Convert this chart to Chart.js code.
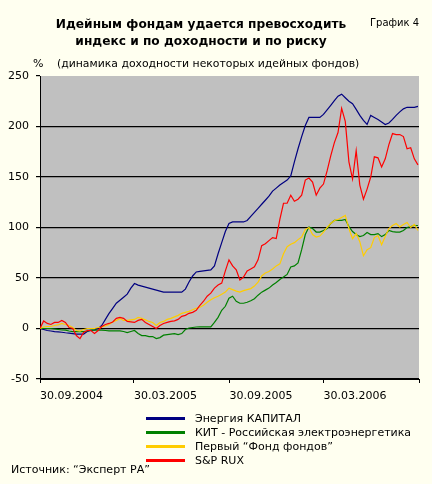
<!DOCTYPE html>
<html><head><meta charset="utf-8">
<script src="https://cdn.jsdelivr.net/npm/chart.js@4/dist/chart.umd.min.js"></script>
<style>
html,body{margin:0;padding:0;background:#FFFFF0;}
#wrap{position:relative;width:432px;height:484px;overflow:hidden;font-family:"DejaVu Sans",sans-serif;color:#000;}
canvas{position:absolute;left:0;top:0;}
.t{position:absolute;white-space:nowrap;font-size:11px;line-height:14px;}
#legend .row{position:absolute;left:146px;height:14px;}
#legend .sw{position:absolute;left:0;top:5px;width:39px;height:3px;}
#legend .lb{position:absolute;left:49px;top:0;white-space:nowrap;font-size:11px;line-height:14px;}
</style></head><body>
<div id="wrap">
<canvas id="c" width="432" height="484"></canvas>
<div class="t" style="left:0;width:402px;top:16px;text-align:center;font-weight:bold;font-size:12.2px;line-height:17px">Идейным фондам удается превосходить<br>индекс и по доходности и по риску</div>
<div class="t" style="left:370px;top:16px;font-size:10px;">График 4</div>
<div class="t" style="left:33px;top:57px;">%</div>
<div class="t" style="left:57px;top:57px;font-size:10.85px;">(динамика доходности некоторых идейных фондов)</div>
<div id="legend"></div>
<div class="t" style="left:11px;top:463px;">Источник: “Эксперт РА”</div>
</div>
<script>
// x: days since 30.09.2004 (weekly observations)
const days = Array.from({length:105}, (_, i) => i * 7);
const tickDays = [0, 181, 365, 546, 730];
const tickLabels = ['30.09.2004', '30.03.2005', '30.09.2005', '30.03.2006', ''];
const seriesNames = ['Энергия КАПИТАЛ', 'КИТ - Российская электроэнергетика', 'Первый “Фонд фондов”', 'S&P RUX'];
const seriesColors = ['#000080', '#008000', '#FFCC00', '#FF0000'];

const energiya = [0,-1,-2,-2.5,-3,-3.3,-3.7,-4.2,-4.6,-5,
 -5.5,-5.5,-5.5,-3,-2,-1.5,0,3,9,15,
 20,25,28,31,34,40,44.5,43,42,41,
 40,39,38,37,36,36,36,36,36,36,
 39,46,52,56,56.5,57,57.5,58,62,74,
 85,96,104,105.5,105.5,105.5,105.5,107,111,115,
 119,123,127,131,136,139,142,144.5,147,151,
 165,178,190,201,209,209,209,209,212,216.5,
 221,225.5,230,232,228.5,225,222.5,217,211,206,
 202,211,209,207,204.5,202,203.5,207,211,214.5,
 217.5,219,219,219,220];
const kit = [0,0,0,0,-0.5,-1,-1.5,-1.7,-2.5,-3,
 -3,-3,-3,-2.5,-1.7,-1.7,-1.7,-1.7,-2,-2.3,
 -2.3,-2.3,-2.3,-3,-4,-3,-2,-5,-7,-7,
 -8,-8,-10,-9,-6.6,-6,-5.5,-5,-6,-5,
 -1,0.5,1,1.5,1.6,1.6,1.6,1.6,6,11,
 18,22,30,32,27,25,25,26,27.5,29.5,
 33,36,38,40,43,45.5,48.5,51,53.5,61,
 62,65,78,93,100.5,99,95.5,95.5,97,99,
 104,107,107,107,108,101,96,93,91,92,
 95,93,93,94,91,93,97,96,95.5,95.5,
 97,100,101,102,102];
const pervyi = [0,1.5,2,2,3,3.5,5,4,3,1,
 -2,-2.5,-1,0,0,0,1,1.5,2.5,4,
 6.5,8,10,8,8,8.5,9,11,10,8.5,
 7,6,3,6,7,9,10,11.5,13,15,
 16,17,18.5,20,21,23,26,28.5,30.5,32,
 34,36,40,38.5,37,36,37.5,38.5,39.5,42,
 46,52,55,56.5,59,62,64,74,81,83.5,
 85,88,90.6,98,100,93,90.6,91.5,95.5,100,
 104,107,108,110,112,99,89,94,86,72,
 78,80,90,92,83,91,99,102,104,100.5,
 103,105,100,103,97];
const sprux = [0,7.5,5,4,6,6,8,6,1,0,
 -7,-10,-4,-2,-2,-5,-2,2,4,5,
 6.5,10,11,10,7,6.5,6,8,9,6,
 4,2,0,3,5,6,7,7.5,9,12,
 13,15,16,18,23,27,32,35,40,43,
 45,57,68,62,58,48,51,57,59,61,
 68,82,84,87,90,89,108,124,124,132,
 126,128,132,147,149,145,132,139,143,156,
 171,184,194,218,205,165,148,176,142,128,
 138,150,170,169,160,168,182,193,192,192,
 190,178,179,168,162];

const seriesValues = [energiya, kit, pervyi, sprux];

const datasets = seriesValues.map((vals, k) => ({
  label: seriesNames[k],
  data: days.map((d, i) => ({x: d, y: vals[i]})),
  borderColor: seriesColors[k],
  backgroundColor: seriesColors[k],
  borderWidth: 1.2,
  pointRadius: 0,
  tension: 0,
  fill: false,
  order: 3 - k
}));

const bgPlugin = {
  id: 'plotBg',
  beforeDraw(chart) {
    const {ctx, chartArea: a} = chart;
    ctx.save();
    ctx.fillStyle = '#C0C0C0';
    ctx.fillRect(a.left, a.top, a.right - a.left, a.bottom - a.top);
    ctx.restore();
  }
};

Chart.defaults.font.family = '"DejaVu Sans", sans-serif';
Chart.defaults.font.size = 11;
Chart.defaults.color = '#000';

new Chart(document.getElementById('c'), {
  type: 'line',
  data: { datasets },
  options: {
    responsive: false,
    animation: false,
    events: [],
    layout: { padding: { top: 76, right: 13, bottom: 80, left: 0 } },
    plugins: { legend: { display: false }, tooltip: { enabled: false }, title: { display: false } },
    scales: {
      x: {
        type: 'linear', min: 0, max: 730,
        afterBuildTicks: (s) => { s.ticks = tickDays.map(v => ({ value: v })); },
        afterFit: (s) => { s.height = 25; },
        ticks: {
          autoSkip: false, maxRotation: 0, minRotation: 0, align: 'start', padding: 7,
          callback: (v) => { const j = tickDays.indexOf(v); return j >= 0 ? tickLabels[j] : ''; }
        },
        grid: { drawOnChartArea: false, drawTicks: true, tickLength: 4, tickColor: '#000', color: '#000' },
        border: { display: true, color: '#000', width: 1 }
      },
      y: {
        min: -50, max: 250,
        afterFit: (s) => { s.width = 40; },
        ticks: { stepSize: 50, padding: 7 },
        grid: {
          color: (c) => (c.tick && c.tick.value === 250) ? 'rgba(0,0,0,0)' : '#000',
          tickColor: '#000', tickLength: 4, lineWidth: 1.2
        },
        border: { display: true, color: '#000', width: 1 }
      }
    }
  },
  plugins: [bgPlugin]
});

// legend built from the series definitions
const legendRows = [412, 426, 440, 454];
const lg = document.getElementById('legend');
seriesNames.forEach((name, k) => {
  const row = document.createElement('div');
  row.className = 'row';
  row.style.top = legendRows[k] + 'px';
  const sw = document.createElement('div');
  sw.className = 'sw'; sw.style.background = seriesColors[k];
  const lb = document.createElement('div');
  lb.className = 'lb'; lb.textContent = name;
  row.appendChild(sw); row.appendChild(lb);
  lg.appendChild(row);
});
</script>
</body></html>
